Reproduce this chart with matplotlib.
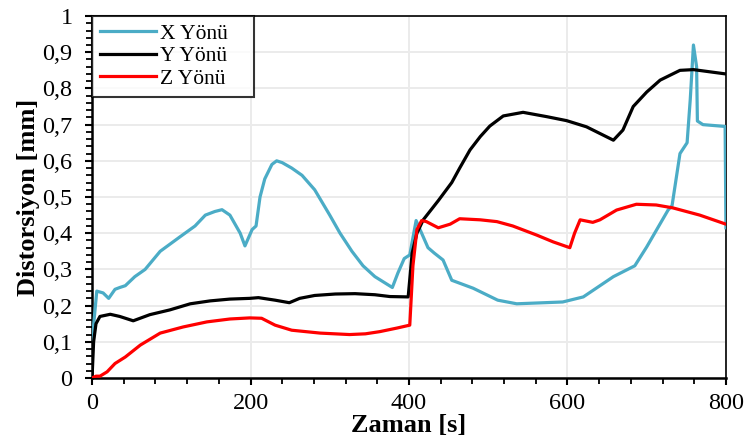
import matplotlib
matplotlib.use("Agg")
import matplotlib.pyplot as plt
from matplotlib.ticker import MultipleLocator, FuncFormatter

# X Yönü
x_t = [0, 6, 14, 21, 29, 35, 42, 54, 67, 86, 111, 130, 143, 155, 164, 174, 187, 193,
       202, 207, 212, 218, 227, 233, 240, 252, 265, 281, 300, 313, 328, 342, 357, 379,
       386, 394, 401, 409, 416, 424, 432, 443, 454, 481, 512, 536, 594, 620, 658, 685,
       700, 727, 732, 742, 751, 755, 759, 763, 764, 771, 799, 800]
x_v = [0.10, 0.24, 0.235, 0.22, 0.245, 0.25, 0.255, 0.28, 0.30, 0.35, 0.39, 0.42, 0.45,
       0.46, 0.465, 0.45, 0.40, 0.365, 0.41, 0.42, 0.50, 0.55, 0.59, 0.60, 0.595, 0.58,
       0.56, 0.52, 0.45, 0.40, 0.35, 0.31, 0.28, 0.25, 0.29, 0.33, 0.34, 0.435, 0.40,
       0.36, 0.345, 0.326, 0.27, 0.248, 0.215, 0.205, 0.21, 0.224, 0.28, 0.31, 0.362,
       0.464, 0.476, 0.62, 0.65, 0.77, 0.92, 0.86, 0.71, 0.70, 0.695, 0.415]

# Y Yönü
y_t = [0, 2, 5, 10, 23, 35, 52, 73, 98, 124, 149, 174, 199, 210, 231, 249, 262, 281,
       307, 332, 357, 376, 399, 404, 410, 418, 437, 454, 464, 477, 490, 502, 519, 544,
       574, 599, 624, 658, 670, 683, 700, 717, 742, 759, 800]
y_v = [0.0, 0.10, 0.15, 0.17, 0.176, 0.17, 0.158, 0.175, 0.188, 0.205, 0.213, 0.218,
       0.22, 0.222, 0.215, 0.208, 0.22, 0.228, 0.232, 0.233, 0.23, 0.225, 0.224, 0.345,
       0.40, 0.437, 0.49, 0.54, 0.58, 0.63, 0.667, 0.696, 0.724, 0.734, 0.722, 0.711,
       0.694, 0.657, 0.685, 0.75, 0.79, 0.823, 0.85, 0.852, 0.84]

# Z Yönü
z_t = [0, 5, 10, 19, 29, 42, 61, 86, 115, 145, 174, 199, 214, 231, 252, 288, 325, 345,
       363, 385, 401, 405, 410, 416, 422, 437, 452, 464, 490, 511, 531, 561, 582, 603,
       609, 616, 632, 641, 662, 687, 712, 733, 767, 800]
z_v = [0.0, 0.005, 0.005, 0.017, 0.04, 0.058, 0.091, 0.124, 0.141, 0.155, 0.163, 0.166,
       0.165, 0.146, 0.132, 0.124, 0.12, 0.122, 0.128, 0.138, 0.146, 0.31, 0.41, 0.435,
       0.432, 0.415, 0.425, 0.44, 0.437, 0.432, 0.42, 0.395, 0.376, 0.36, 0.40, 0.437,
       0.43, 0.437, 0.464, 0.48, 0.478, 0.47, 0.45, 0.425]

plt.rcParams["font.family"] = ["Liberation Serif", "DejaVu Serif"]

fig = plt.figure(figsize=(7.44, 4.46), dpi=100)
ax = fig.add_axes([0.1237, 0.1525, 0.852, 0.8115])

ax.plot(x_t, x_v, color="#4BACC6", lw=2.3, label="X Yönü", zorder=3)
ax.plot(y_t, y_v, color="black", lw=2.3, label="Y Yönü", zorder=3)
ax.plot(z_t, z_v, color="#FF0000", lw=2.3, label="Z Yönü", zorder=3)

ax.set_xlim(0, 800)
ax.set_ylim(0, 1)
ax.xaxis.set_major_locator(MultipleLocator(200))
ax.xaxis.set_minor_locator(MultipleLocator(40))
ax.yaxis.set_major_locator(MultipleLocator(0.1))
ax.yaxis.set_minor_locator(MultipleLocator(0.02))

def comma(v, pos):
    s = f"{v:.1f}".rstrip("0").rstrip(".")
    return s.replace(".", ",")

ax.yaxis.set_major_formatter(FuncFormatter(comma))
ax.grid(True, which="major", color="#EBEBEB", lw=1.4, zorder=0)
ax.set_axisbelow(True)

for side in ["left", "bottom", "right", "top"]:
    ax.spines[side].set_linewidth(1.8 if side in ("left", "bottom") else 1.2)
ax.tick_params(which="major", direction="out", length=5, width=1.5, labelsize=17.5)
ax.tick_params(axis="y", which="major", pad=9)
ax.tick_params(axis="x", which="major", pad=6)
ax.tick_params(which="minor", direction="out", length=4.5, width=1.3)

ax.set_xlabel("Zaman [s]", fontsize=19, fontweight="bold", labelpad=0)
ax.set_ylabel("Distorsiyon [mm]", fontsize=19, fontweight="bold", labelpad=2)

leg = ax.legend(loc="upper left", bbox_to_anchor=(0.0, 0.0, 0.2555, 1.0),
                mode="expand", fontsize=15.5, frameon=True, fancybox=False,
                borderaxespad=0, handlelength=2.6, labelspacing=0.12,
                borderpad=0.35, handletextpad=0.2)
leg.get_frame().set_edgecolor("black")
leg.get_frame().set_linewidth(1.5)

fig.savefig("out.png", dpi=100)
